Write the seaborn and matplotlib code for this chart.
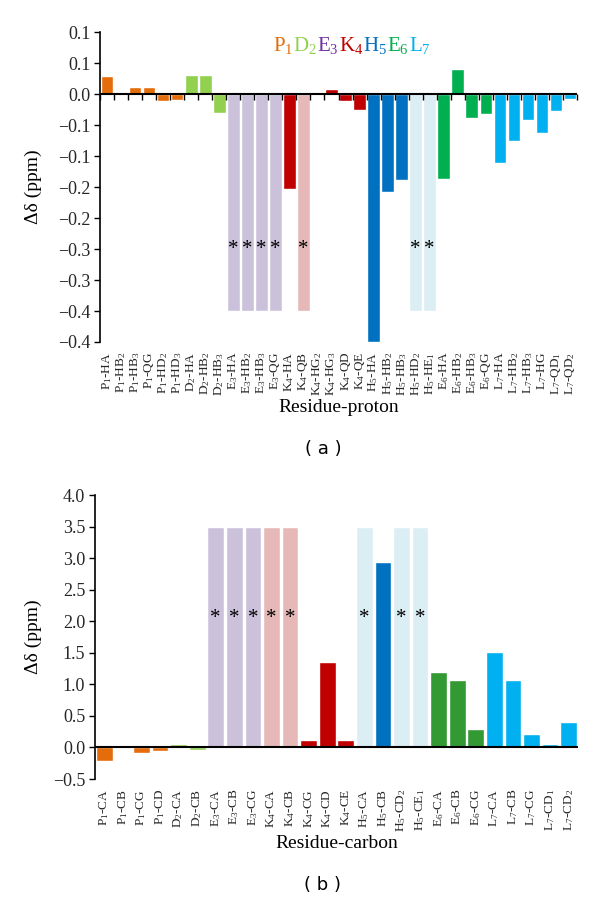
import numpy as np
import pandas as pd
import seaborn as sns
import matplotlib.pyplot as plt

# (a) residue-proton chemical shift differences, None = not assigned (shaded, *)
proton_labels = [
    "P$_1$-HA", "P$_1$-HB$_2$", "P$_1$-HB$_3$", "P$_1$-QG", "P$_1$-HD$_2$", "P$_1$-HD$_3$",
    "D$_2$-HA", "D$_2$-HB$_2$", "D$_2$-HB$_3$",
    "E$_3$-HA", "E$_3$-HB$_2$", "E$_3$-HB$_3$", "E$_3$-QG",
    "K$_4$-HA", "K$_4$-QB", "K$_4$-HG$_2$", "K$_4$-HG$_3$", "K$_4$-QD", "K$_4$-QE",
    "H$_5$-HA", "H$_5$-HB$_2$", "H$_5$-HB$_3$", "H$_5$-HD$_2$", "H$_5$-HE$_1$",
    "E$_6$-HA", "E$_6$-HB$_2$", "E$_6$-HB$_3$", "E$_6$-QG",
    "L$_7$-HA", "L$_7$-HB$_2$", "L$_7$-HB$_3$", "L$_7$-HG", "L$_7$-QD$_1$", "L$_7$-QD$_2$",
]
proton_shift = [
    0.029, -0.002, 0.012, 0.011, -0.011, -0.009,
    0.030, 0.031, -0.031,
    None, None, None, None,
    -0.153, None, 0.004, 0.008, -0.012, -0.025,
    -0.400, -0.158, -0.139, None, None,
    -0.137, 0.041, -0.038, -0.033,
    -0.111, -0.075, -0.042, -0.063, -0.027, -0.008,
]
proton_ticks = [-0.4, -0.35, -0.3, -0.25, -0.2, -0.15, -0.1, -0.05, 0.0, 0.05, 0.1]
proton_ticklabels = ["\u22120.4", "\u22120.4", "\u22120.3", "\u22120.3", "\u22120.2", "\u22120.2",
                     "\u22120.1", "\u22120.1", "0.0", "0.1", "0.1"]

# (b) residue-carbon
carbon_labels = [
    "P$_1$-CA", "P$_1$-CB", "P$_1$-CG", "P$_1$-CD",
    "D$_2$-CA", "D$_2$-CB",
    "E$_3$-CA", "E$_3$-CB", "E$_3$-CG",
    "K$_4$-CA", "K$_4$-CB", "K$_4$-CG", "K$_4$-CD", "K$_4$-CE",
    "H$_5$-CA", "H$_5$-CB", "H$_5$-CD$_2$", "H$_5$-CE$_1$",
    "E$_6$-CA", "E$_6$-CB", "E$_6$-CG",
    "L$_7$-CA", "L$_7$-CB", "L$_7$-CG", "L$_7$-CD$_1$", "L$_7$-CD$_2$",
]
carbon_shift = [
    -0.22, 0.03, -0.08, -0.05,
    0.05, -0.04,
    None, None, None,
    None, None, 0.12, 1.35, 0.12,
    None, 2.94, None, None,
    1.19, 1.07, 0.29,
    1.52, 1.07, 0.22, 0.05, 0.40,
]
carbon_ticks = [-0.5, 0.0, 0.5, 1.0, 1.5, 2.0, 2.5, 3.0, 3.5, 4.0]
carbon_ticklabels = ["\u22120.5", "0.0", "0.5", "1.0", "1.5", "2.0", "2.5", "3.0", "3.5", "4.0"]

residues = ["P1", "D2", "E3", "K4", "H5", "E6", "L7"]
legend_parts = ["P$_1$", "D$_2$", "E$_3$", "K$_4$", "H$_5$", "E$_6$", "L$_7$"]
colors_a = {"P1": "#e46c0a", "D2": "#92d050", "E3": "#7030a0", "K4": "#c00000",
            "H5": "#0070c0", "E6": "#00b050", "L7": "#00b0f0"}
colors_b = dict(colors_a, E6="#339933")
shade = {"E3": "#ccc1da", "K4": "#e6b9b8", "H5": "#daeef3"}

sns.set_theme(style="white")
plt.rcParams["font.family"] = ["Liberation Serif", "DejaVu Serif"]
plt.rcParams["mathtext.fontset"] = "custom"
plt.rcParams["mathtext.rm"] = "Liberation Serif"
plt.rcParams["mathtext.it"] = "Liberation Serif:italic"
plt.rcParams["mathtext.default"] = "regular"


def draw(ax, labels, shifts, colors, shade_level, star_level, ylim, ticks, ticklabels, xlabel):
    df = pd.DataFrame({"label": labels, "shift": pd.Series(shifts, dtype=float)})
    df["residue"] = [lab[0] + lab[3] for lab in labels]
    df["missing"] = df["shift"].isna()
    df["height"] = df["shift"].fillna(shade_level)
    df["group"] = np.where(df["missing"], df["residue"] + "*", df["residue"])
    pal = dict(colors)
    pal.update({k + "*": v for k, v in shade.items()})

    sns.barplot(data=df, x="label", y="height", hue="group", palette=pal, order=labels,
                dodge=False, width=0.9, errorbar=None, saturation=1, legend=False, ax=ax)

    # asterisk on the unassigned (shaded) columns
    for i in np.flatnonzero(df["missing"]):
        ax.text(i, star_level, "*", ha="center", va="center", fontsize=15, color="black")

    ax.axhline(0, color="black", lw=1.5, zorder=3)
    ax.set_xlim(-0.5, len(labels) - 0.5)
    ax.set_ylim(*ylim)
    ax.set_yticks(ticks)
    ax.set_yticklabels(ticklabels)
    ax.tick_params(axis="x", length=0, pad=7, labelsize=9.5, labelrotation=90)
    ax.tick_params(axis="y", left=True, length=4, width=1, pad=3, labelsize=13, color="black")
    sns.despine(ax=ax, bottom=True)
    ax.spines["left"].set_color("black")
    ax.spines["left"].set_linewidth(1.2)
    ax.set_xlabel(xlabel, fontsize=14, labelpad=2, color="black")
    ax.set_ylabel("\u0394\u03b4 (ppm)", fontsize=14, color="black")


fig = plt.figure(figsize=(6, 9), dpi=100)
ax_a = fig.add_axes([0.1667, 0.62, 0.795, 0.3444])
ax_b = fig.add_axes([0.1583, 0.1344, 0.805, 0.3156])

draw(ax_a, proton_labels, proton_shift, colors_a, -0.35, -0.25, (-0.4, 0.1),
     proton_ticks, proton_ticklabels, "Residue-proton")
draw(ax_b, carbon_labels, carbon_shift, colors_b, 3.5, 2.05, (-0.5, 4.0),
     carbon_ticks, carbon_ticklabels, "Residue-carbon")
ax_a.yaxis.set_label_coords(-0.122, 0.5)
ax_b.yaxis.set_label_coords(-0.11, 0.5)

# small ticks between categories on the zero line of (a)
sec = ax_a.secondary_xaxis(0.8)
sec.set_xticks(np.arange(len(proton_labels) + 1) - 0.5)
sec.set_xticklabels([])
sec.tick_params(direction="in", length=4, width=1, color="black")
for s in sec.spines.values():
    s.set_visible(False)
sec.set_zorder(4)

# coloured residue sequence
prev = fig.text(273 / 600, 1 - 56 / 900, legend_parts[0], color=colors_a["P1"],
                fontsize=15, va="bottom", ha="left")
for part, res in zip(legend_parts[1:], residues[1:]):
    prev = ax_a.annotate(part, xy=(1, 0), xycoords=prev, va="bottom", ha="left",
                         color=colors_a[res], fontsize=15)

fig.text(323 / 600, 1 - 449 / 900, "( a )", ha="center", va="center",
         fontsize=13, family="DejaVu Sans", color="black")
fig.text(323 / 600, 1 - 885 / 900, "( b )", ha="center", va="center",
         fontsize=13, family="DejaVu Sans", color="black")

fig.savefig("out.png", dpi=100)
